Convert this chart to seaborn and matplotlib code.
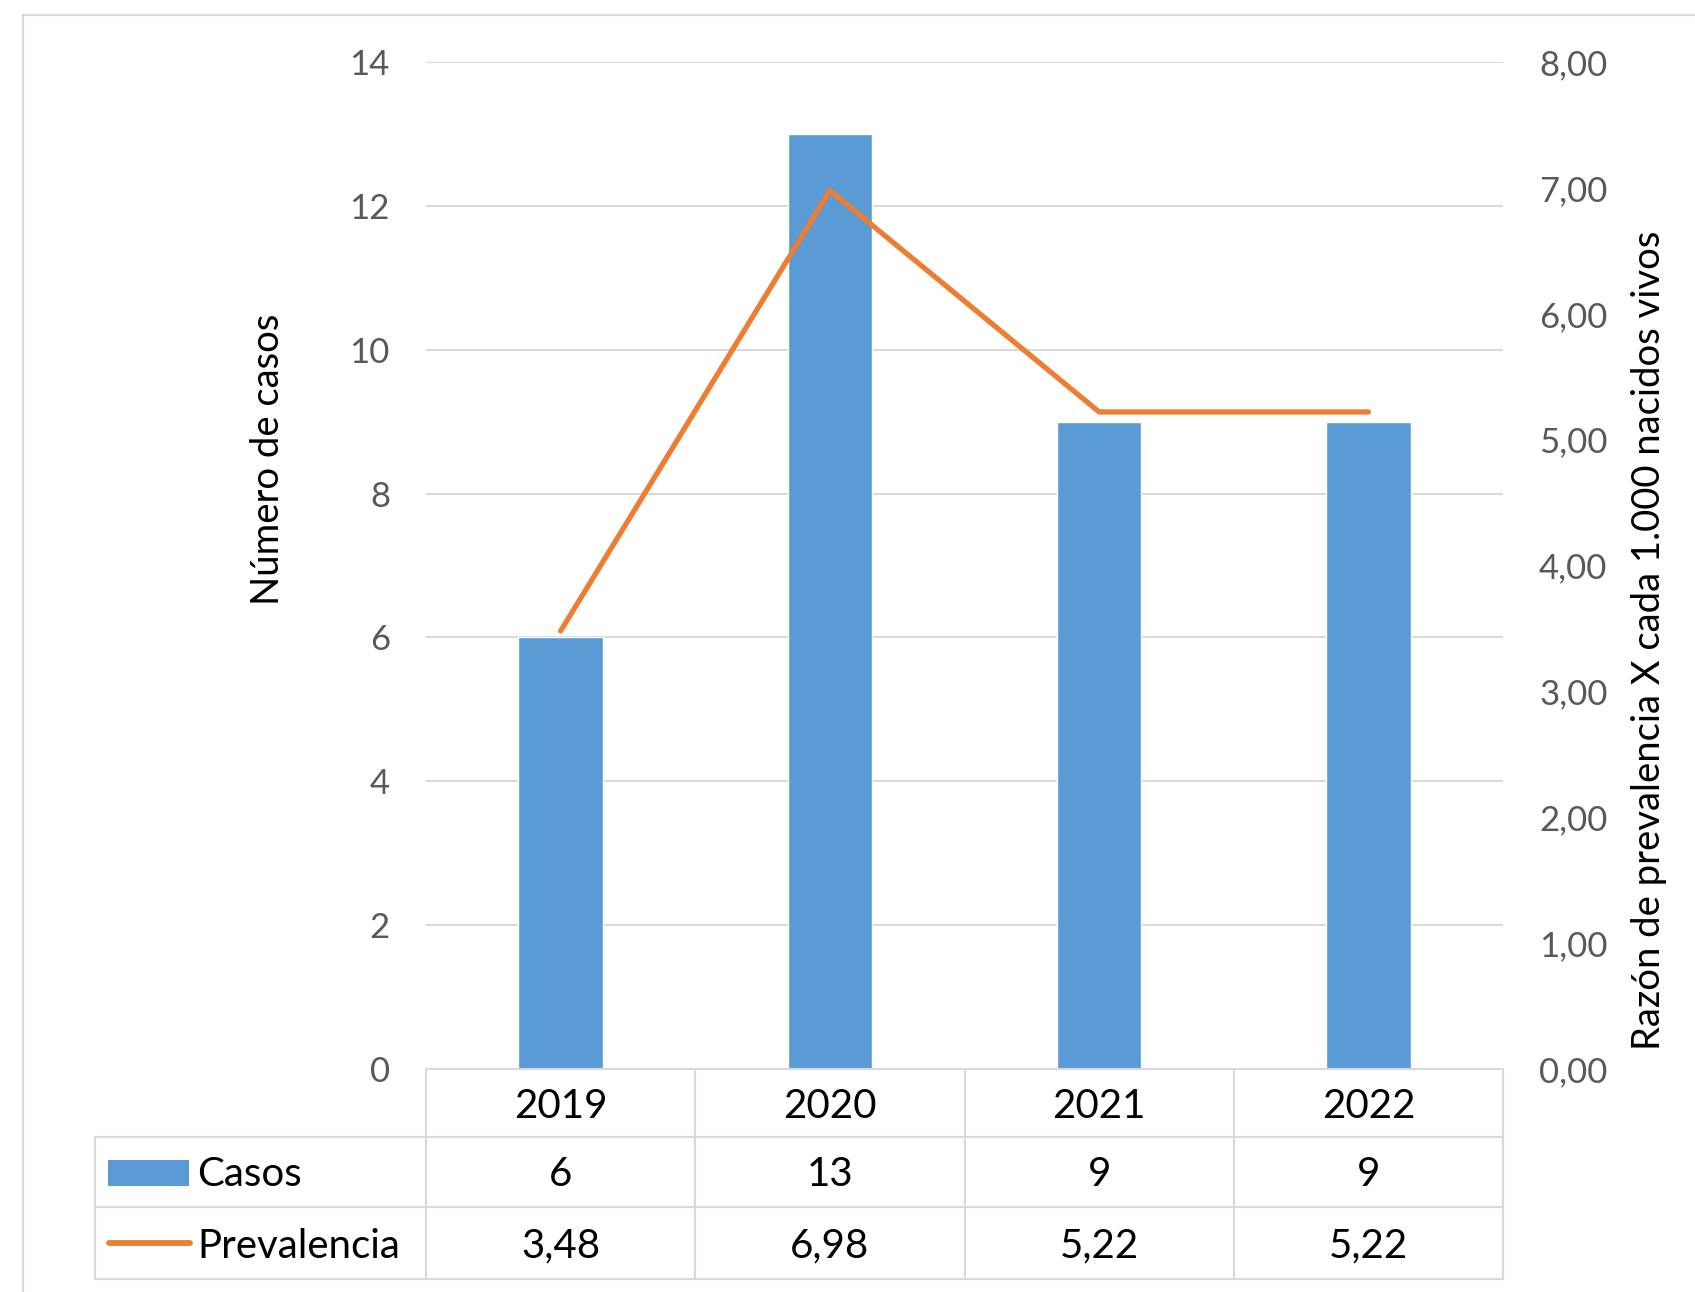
import numpy as np
import pandas as pd
import matplotlib
matplotlib.use("Agg")
import matplotlib.pyplot as plt
from matplotlib.ticker import FuncFormatter, MultipleLocator
from matplotlib.lines import Line2D
from matplotlib.patches import Rectangle
import seaborn as sns

years = ["2019", "2020", "2021", "2022"]
casos = [6, 13, 9, 9]
prevalencia = [3.48, 6.98, 5.22, 5.22]
series_names = ["Casos", "Prevalencia"]
left_label = "Número de casos"
right_label = "Razón de prevalencia X cada 1.000 nacidos vivos"

W, H = 1695, 1292
sns.set_theme(style="white")
plt.rcParams['font.family'] = ['Lato', 'DejaVu Sans']

BLUE = "#5b9bd5"
ORANGE = "#ed7d31"
GRID = "#d9d9d9"
TICK = "#595959"

fig = plt.figure(figsize=(W / 100, H / 100), dpi=100)
fig.patch.set_facecolor("white")

def fx(px):
    return px / W

def fy(py):
    return 1 - py / H

# outer frame
fig.patches.append(Rectangle((fx(23), fy(1300)), fx(1700) - fx(23), fy(15) - fy(1300),
                             transform=fig.transFigure, fill=False, edgecolor=GRID, lw=1.5))

L, R, T, B = 426, 1503, 62, 1069
ax = fig.add_axes([fx(L), fy(B), fx(R) - fx(L), fy(T) - fy(B)])

df = pd.DataFrame({"year": years, "casos": casos})
sns.barplot(data=df, x="year", y="casos", color=BLUE, saturation=1, width=0.313, ax=ax, zorder=3)
ax.set_xlim(-0.5, len(years) - 0.5)
ax.set_ylim(0, 14)
ax.yaxis.set_major_locator(MultipleLocator(2))
ax.grid(axis="y", color=GRID, lw=1.5, zorder=0)
ax.set_axisbelow(True)
for s in ax.spines.values():
    s.set_visible(False)
ax.set_xticks([])
ax.set_xlabel("")
ax.set_ylabel("")
ax.tick_params(axis="y", length=0, pad=26, labelsize=25, labelcolor=TICK)

ax2 = ax.twinx()
sns.lineplot(x=np.arange(len(years)), y=prevalencia, ax=ax2, color=ORANGE, lw=3.8, zorder=4)
ax2.set_ylim(0, 8)
ax2.yaxis.set_major_locator(MultipleLocator(1))
ax2.yaxis.set_major_formatter(FuncFormatter(lambda v, p: f"{v:.2f}".replace(".", ",")))
ax2.tick_params(axis="y", length=0, pad=26, labelsize=25, labelcolor=TICK)
for s in ax2.spines.values():
    s.set_visible(False)
ax2.set_ylabel("")
ax2.grid(False)

fig.text(fx(268), fy(459), left_label, rotation=90, ha="center", va="center", fontsize=27.5, color="black")
fig.text(fx(1649), fy(640), right_label, rotation=90, ha="center", va="center", fontsize=27.5, color="black")

# data table
cols = [L + i * (R - L) / len(years) for i in range(len(years) + 1)]
rows = [1069, 1137, 1207, 1279]
TL = 95

def hline(x0, x1, y):
    fig.lines.append(Line2D([fx(x0), fx(x1)], [fy(y), fy(y)], transform=fig.transFigure, color=GRID, lw=1.5))

def vline(x, y0, y1):
    fig.lines.append(Line2D([fx(x), fx(x)], [fy(y0), fy(y1)], transform=fig.transFigure, color=GRID, lw=1.5))

hline(L, R, rows[0])
for y in rows[1:]:
    hline(TL, R, y)
for x in cols:
    vline(x, rows[0], rows[3])
vline(TL, rows[1], rows[3])

fs = 29
dy = 3
for i, yr in enumerate(years):
    cx = (cols[i] + cols[i + 1]) / 2
    fig.text(fx(cx), fy((rows[0] + rows[1]) / 2 + dy), yr, ha="center", va="center", fontsize=fs, color="black")
    fig.text(fx(cx), fy((rows[1] + rows[2]) / 2 + dy), f"{casos[i]}", ha="center", va="center", fontsize=fs, color="black")
    fig.text(fx(cx), fy((rows[2] + rows[3]) / 2 + dy), f"{prevalencia[i]:.2f}".replace(".", ","),
             ha="center", va="center", fontsize=fs, color="black")

# legend keys
fig.patches.append(Rectangle((fx(108), fy(1186)), fx(189) - fx(108), fy(1160) - fy(1186),
                             transform=fig.transFigure, facecolor=BLUE, edgecolor="none"))
fig.lines.append(Line2D([fx(109), fx(190)], [fy(1243), fy(1243)], transform=fig.transFigure,
                        color=ORANGE, lw=4.2, solid_capstyle="round"))
fig.text(fx(197), fy((rows[1] + rows[2]) / 2 + dy), series_names[0], ha="left", va="center", fontsize=fs, color="black")
fig.text(fx(197), fy((rows[2] + rows[3]) / 2 + dy), series_names[1], ha="left", va="center", fontsize=fs, color="black")

fig.savefig("out.png", dpi=100)
